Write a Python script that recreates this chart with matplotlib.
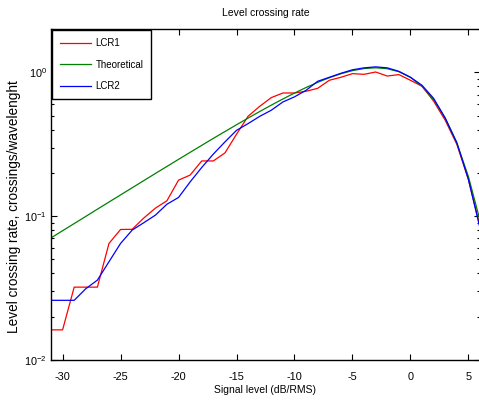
import matplotlib
matplotlib.use("Agg")
import matplotlib.pyplot as plt
from matplotlib.ticker import LogLocator, NullFormatter, FuncFormatter

plt.rcParams['font.family'] = ['Liberation Sans', 'DejaVu Sans']
plt.rcParams['mathtext.fontset'] = 'custom'
plt.rcParams['mathtext.rm'] = 'Liberation Sans'
plt.rcParams['axes.unicode_minus'] = False

signal_level = [-31, -30, -29, -28, -27, -26, -25, -24, -23, -22, -21, -20,
                -19, -18, -17, -16, -15, -14, -13, -12, -11, -10, -9, -8,
                -7, -6, -5, -4, -3, -2, -1, 0, 1, 2, 3, 4, 5, 6]

lcr1 = [0.0162, 0.0162, 0.0321, 0.0321, 0.0321, 0.0646, 0.0808, 0.081, 0.097,
        0.1136, 0.128, 0.178, 0.193, 0.242, 0.242, 0.275, 0.371, 0.495, 0.58,
        0.667, 0.718, 0.718, 0.738, 0.774, 0.88, 0.923, 0.979, 0.968, 1.005,
        0.942, 0.964, 0.88, 0.80, 0.63, 0.464, 0.316, 0.18, 0.085]

theoretical = [0.0706, 0.0792, 0.0888, 0.0996, 0.1118, 0.1253, 0.1405, 0.1575,
               0.1766, 0.1979, 0.2216, 0.2482, 0.2777, 0.3106, 0.3472, 0.3874,
               0.4318, 0.4806, 0.5338, 0.5912, 0.6524, 0.7172, 0.7841, 0.8516,
               0.9172, 0.9773, 1.0273, 1.0622, 1.0750, 1.0594, 1.0096, 0.9221,
               0.7986, 0.6469, 0.4815, 0.3222, 0.1886, 0.0933]

lcr2 = [0.026, 0.026, 0.026, 0.0313, 0.0359, 0.0482, 0.0646, 0.080, 0.090,
        0.1016, 0.121, 0.1349, 0.173, 0.218, 0.270, 0.328, 0.395, 0.44, 0.494,
        0.545, 0.622, 0.675, 0.75, 0.866, 0.923, 0.984, 1.041, 1.074, 1.091,
        1.074, 1.016, 0.924, 0.812, 0.659, 0.48, 0.325, 0.18, 0.0826]

W, H = 479, 403
fig = plt.figure(figsize=(W / 100, H / 100), dpi=100)
ax = fig.add_axes([51 / W, 43 / H, 429 / W, 331 / H])

ax.plot(signal_level, lcr1, color='#ff0000', lw=0.9, label='LCR1')
ax.plot(signal_level, theoretical, color='#008000', lw=0.9, label='Theoretical')
ax.plot(signal_level, lcr2, color='#0000ff', lw=0.9, label='LCR2')

ax.set_yscale('log')
ax.set_xlim(-31, 6)
ax.set_ylim(0.01, 2)
ax.set_xticks([-30, -25, -20, -15, -10, -5, 0, 5])
ax.set_xticklabels(['-30', '-25', '-20', '-15', '-10', '-5', '0', '5'])
ax.yaxis.set_major_locator(LogLocator(base=10, numticks=10))
ax.yaxis.set_minor_locator(LogLocator(base=10, subs=range(2, 10), numticks=10))
ax.yaxis.set_minor_formatter(NullFormatter())


def exp_label(v, pos):
    import math
    e = int(round(math.log10(v)))
    return r'$10^{%d}$' % e


ax.yaxis.set_major_formatter(FuncFormatter(exp_label))

ax.tick_params(axis='both', which='both', direction='in', top=True, right=True,
               labelsize=7.8, width=0.8)
ax.tick_params(axis='both', which='major', length=4.5)
ax.tick_params(axis='both', which='minor', length=2.2)
ax.tick_params(axis='x', pad=8.5)
ax.tick_params(axis='y', pad=3)
for s in ax.spines.values():
    s.set_linewidth(1.0)

ax.set_title('Level crossing rate', fontsize=7.5, pad=9)
ax.set_xlabel('Signal level (dB/RMS)', fontsize=7.5, labelpad=2)
ax.set_ylabel('Level crossing rate, crossings/wavelenght', fontsize=9.8, labelpad=2)
ax.yaxis.set_label_coords(-30 / 429, 0.462)

leg = ax.legend(loc='upper left', fontsize=7, fancybox=False, framealpha=1,
                edgecolor='black', borderaxespad=0.12, handlelength=3.2,
                handletextpad=0.45, labelspacing=1.2, borderpad=0.8)
leg.get_frame().set_linewidth(1.0)

fig.savefig('out.png', dpi=100)
